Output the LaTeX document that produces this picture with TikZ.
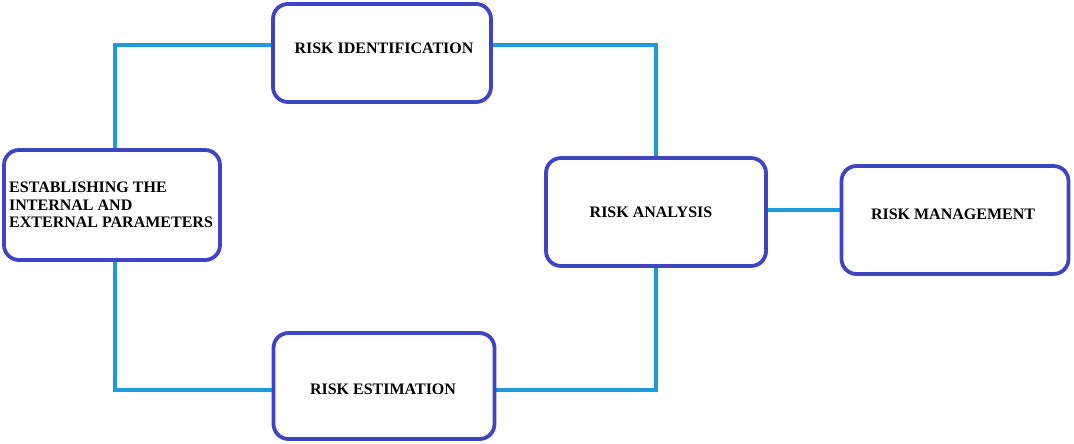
\documentclass[tikz,border=0pt]{standalone}
\usepackage{fontspec}
\setmainfont{Liberation Serif}
\usetikzlibrary{backgrounds}
\definecolor{boxblue}{HTML}{3F45C0}
\definecolor{linkblue}{HTML}{1E9BDC}
\tikzset{
  box/.style={draw=boxblue, line width=3.8pt, rounded corners=15pt, fill=white,
    font=\bfseries\fontsize{16}{18}\selectfont, inner sep=0pt, align=center},
  lbl/.style={font=\bfseries\fontsize{16}{17.5}\selectfont, inner sep=0pt},
  link/.style={draw=linkblue, line width=3.5pt},
}
\begin{document}
\begin{tikzpicture}[x=1pt,y=-1pt]
\useasboundingbox (0,0) rectangle (1074,444);
\node[box, minimum width=216pt, minimum height=110pt] (est) at (112,205) {};
\node[lbl, align=left, anchor=west] (estt) at (9,205) {ESTABLISHING THE\\INTERNAL AND\\EXTERNAL PARAMETERS};
\node[box, minimum width=218pt, minimum height=98pt] (rid) at (382,53) {};
\node[lbl] (ridt) at (384,48) {RISK IDENTIFICATION};
\node[box, minimum width=220pt, minimum height=108pt] (ra) at (656,212) {};
\node[lbl] (rat) at (651,212) {RISK ANALYSIS};
\node[box, minimum width=227pt, minimum height=108pt] (rm) at (955,220) {};
\node[lbl] (rmt) at (953,214) {RISK MANAGEMENT};
\node[box, minimum width=221pt, minimum height=106pt] (res) at (384,386) {};
\node[lbl] (rest) at (383,389) {RISK ESTIMATION};
\begin{scope}[on background layer]
\draw[link] ([xshift=3pt]est.north) |- ([yshift=8pt]rid.west);
\draw[link] ([yshift=8pt]rid.east) -| (ra.north);
\draw[link] (ra.south) |- ([yshift=-4pt]res.east);
\draw[link] ([yshift=-4pt]res.west) -| ([xshift=3pt]est.south);
\draw[link] ([yshift=2pt]ra.east) -- ([yshift=10pt]rm.west);
\end{scope}
\end{tikzpicture}
\end{document}
